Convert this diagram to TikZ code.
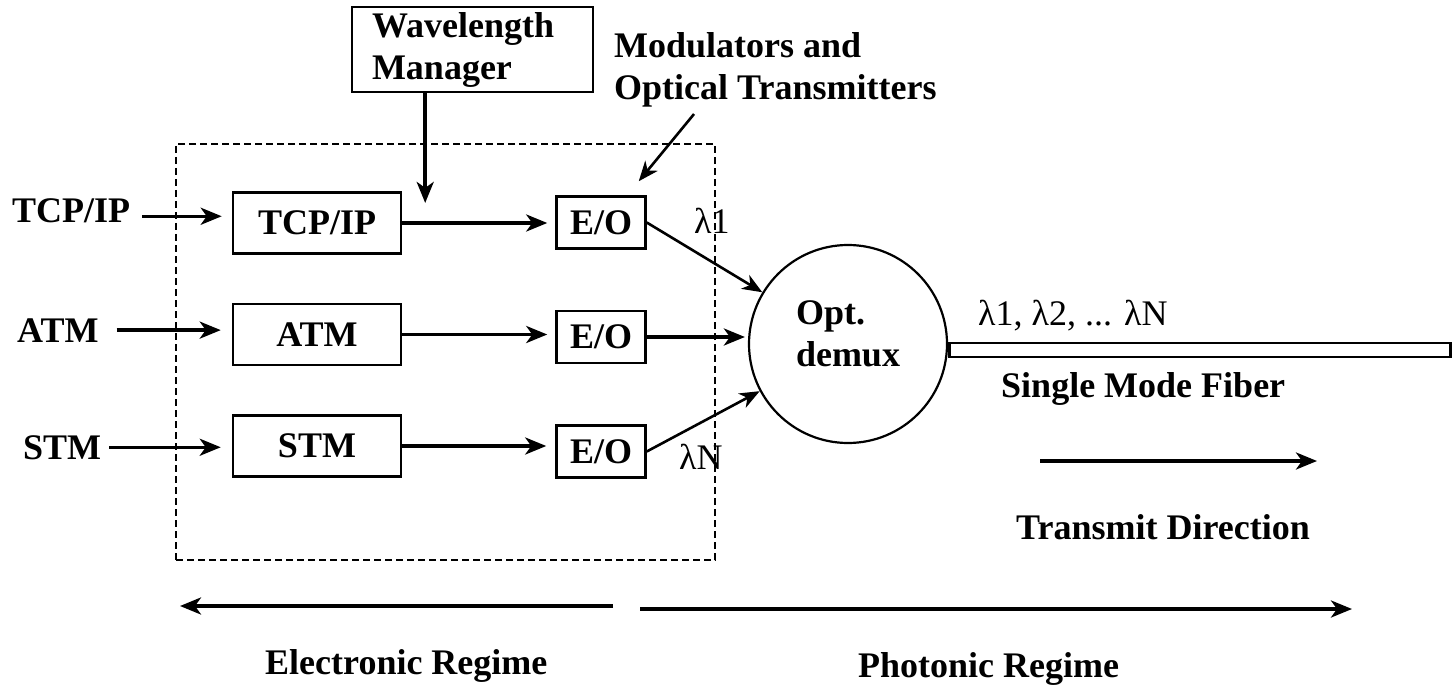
\documentclass[tikz,border=0pt]{standalone}
\usepackage{fontspec}
\setmainfont{Liberation Serif}
\usetikzlibrary{arrows.meta, positioning, calc}
\newcommand{\diagfont}{\fontsize{36}{42}\selectfont}
\tikzstyle{block} = [rectangle, draw=black, line width=2.5pt, minimum width=168pt, minimum height=61pt, inner sep=0pt, text centered, font=\diagfont\bfseries]
\tikzstyle{conv} = [rectangle, draw=black, line width=2.5pt, minimum width=89pt, minimum height=52pt, inner sep=0pt, text centered, font=\diagfont\bfseries]
\tikzstyle{mgr} = [rectangle, draw=black, line width=2.5pt, text width=201pt, inner xsep=20pt, minimum height=85pt, align=left, font=\diagfont\bfseries]
\tikzstyle{mux} = [circle, draw=black, line width=2.2pt, minimum size=198pt, inner sep=0pt, align=left, font=\diagfont\bfseries]
\tikzstyle{fiber} = [rectangle, draw=black, line width=2.5pt, minimum width=501pt, minimum height=14pt, inner sep=0pt]
\tikzstyle{region} = [rectangle, draw=black, line width=2.5pt, dash pattern=on 7pt off 4pt, minimum width=539pt, minimum height=416pt]
\tikzstyle{lbl} = [inner sep=0pt, anchor=base west, font=\diagfont\bfseries]
\tikzstyle{wl} = [inner sep=0pt, anchor=base west, font=\diagfont]
\tikzstyle{arrow} = [line width=3.5pt, -{Stealth[length=21pt, width=17pt, inset=6pt]}]
\tikzstyle{thinarrow} = [line width=2.6pt, -{Stealth[length=20pt, width=16pt, inset=6pt]}]

\begin{document}
\begin{tikzpicture}[x=1pt, y=-1pt, node distance=48pt]
\useasboundingbox (0,0) rectangle (1455,687);

% Electronic side
\node (region) [region] at (445.5,352) {};
\node (wm) [mgr] at (472.5,49.5) {Wavelength\\Manager};

\node (tcp) [block] at (317,223) {TCP/IP};
\node (atm) [block, below=of tcp] {ATM};
\node (stm) [block, below=of atm] {STM};

\node (eo1) [conv] at (601,222.5) {E/O};
\node (eo2) [conv, below=60pt of eo1] {E/O};
\node (eo3) [conv, below=60pt of eo2] {E/O};

\node (tcpin) [lbl] at (12,222) {TCP/IP};
\node (atmin) [lbl] at (17,342) {ATM};
\node (stmin) [lbl] at (23,459) {STM};

\node (modtx) [lbl, anchor=north west, align=left] at (614,32) {Modulators and\\Optical Transmitters};

% Photonic side
\node (demux) [mux] at (848,344) {Opt.\\demux\rule[-21pt]{0pt}{0pt}};
\node (smf) [fiber, right=0pt of demux, yshift=-6pt] {};

\node (lam1) [wl] at (694,233) {λ1};
\node (lamN) [wl] at (679,469) {λN};
\node (lamall) [wl] at (978,325) {λ1, λ2, ... λN};
\node (smflbl) [lbl] at (1001,397) {Single Mode Fiber};
\node (txdir) [lbl] at (1016,539) {Transmit Direction};
\node (elec) [lbl] at (265,674) {Electronic Regime};
\node (phot) [lbl] at (858,677) {Photonic Regime};

\coordinate (inj) at ($(tcp.east)!0.15!(eo1.west)$);
\coordinate (txL) at (1040,461);
\coordinate (txR) at (1317,461);
\coordinate (elecR) at (613,606);
\coordinate (elecL) at (180,606);
\coordinate (photL) at (640,609);
\coordinate (photR) at (1352,609);

\draw[arrow, shorten <=12pt, shorten >=10pt] ([yshift=-6pt]tcpin.east) -- ([yshift=-6pt]tcpin.east -| tcp.west);
\draw[arrow, shorten <=18pt, shorten >=11pt] (atmin.east) -- (atmin.east -| atm.west);
\draw[arrow, shorten <=8pt, shorten >=11pt] (stmin.east) -- (stmin.east -| stm.west);

\draw[arrow, shorten >=8pt] (tcp.east) -- (tcp.east -| eo1.west);
\draw[arrow, shorten >=8pt] (atm.east) -- (atm.east -| eo2.west);
\draw[arrow, shorten >=9pt] (stm.east) -- (stm.east -| eo3.west);

\draw[arrow, shorten >=20pt] (wm.south -| inj) -- (inj);
\draw[thinarrow] ([shift={(80pt,-7pt)}]modtx.south west) -- ([shift={(-8pt,14pt)}]eo1.north east);

\draw[thinarrow] (eo1.east) -- (demux);
\draw[arrow, shorten >=3pt] (eo2.east) -- (eo2.east -| demux.west);
\draw[thinarrow] (eo3.east) -- (demux);

\draw[arrow] (txL) -- (txR);
\draw[arrow] (elecR) -- (elecL);
\draw[arrow] (photL) -- (photR);

\end{tikzpicture}
\end{document}
